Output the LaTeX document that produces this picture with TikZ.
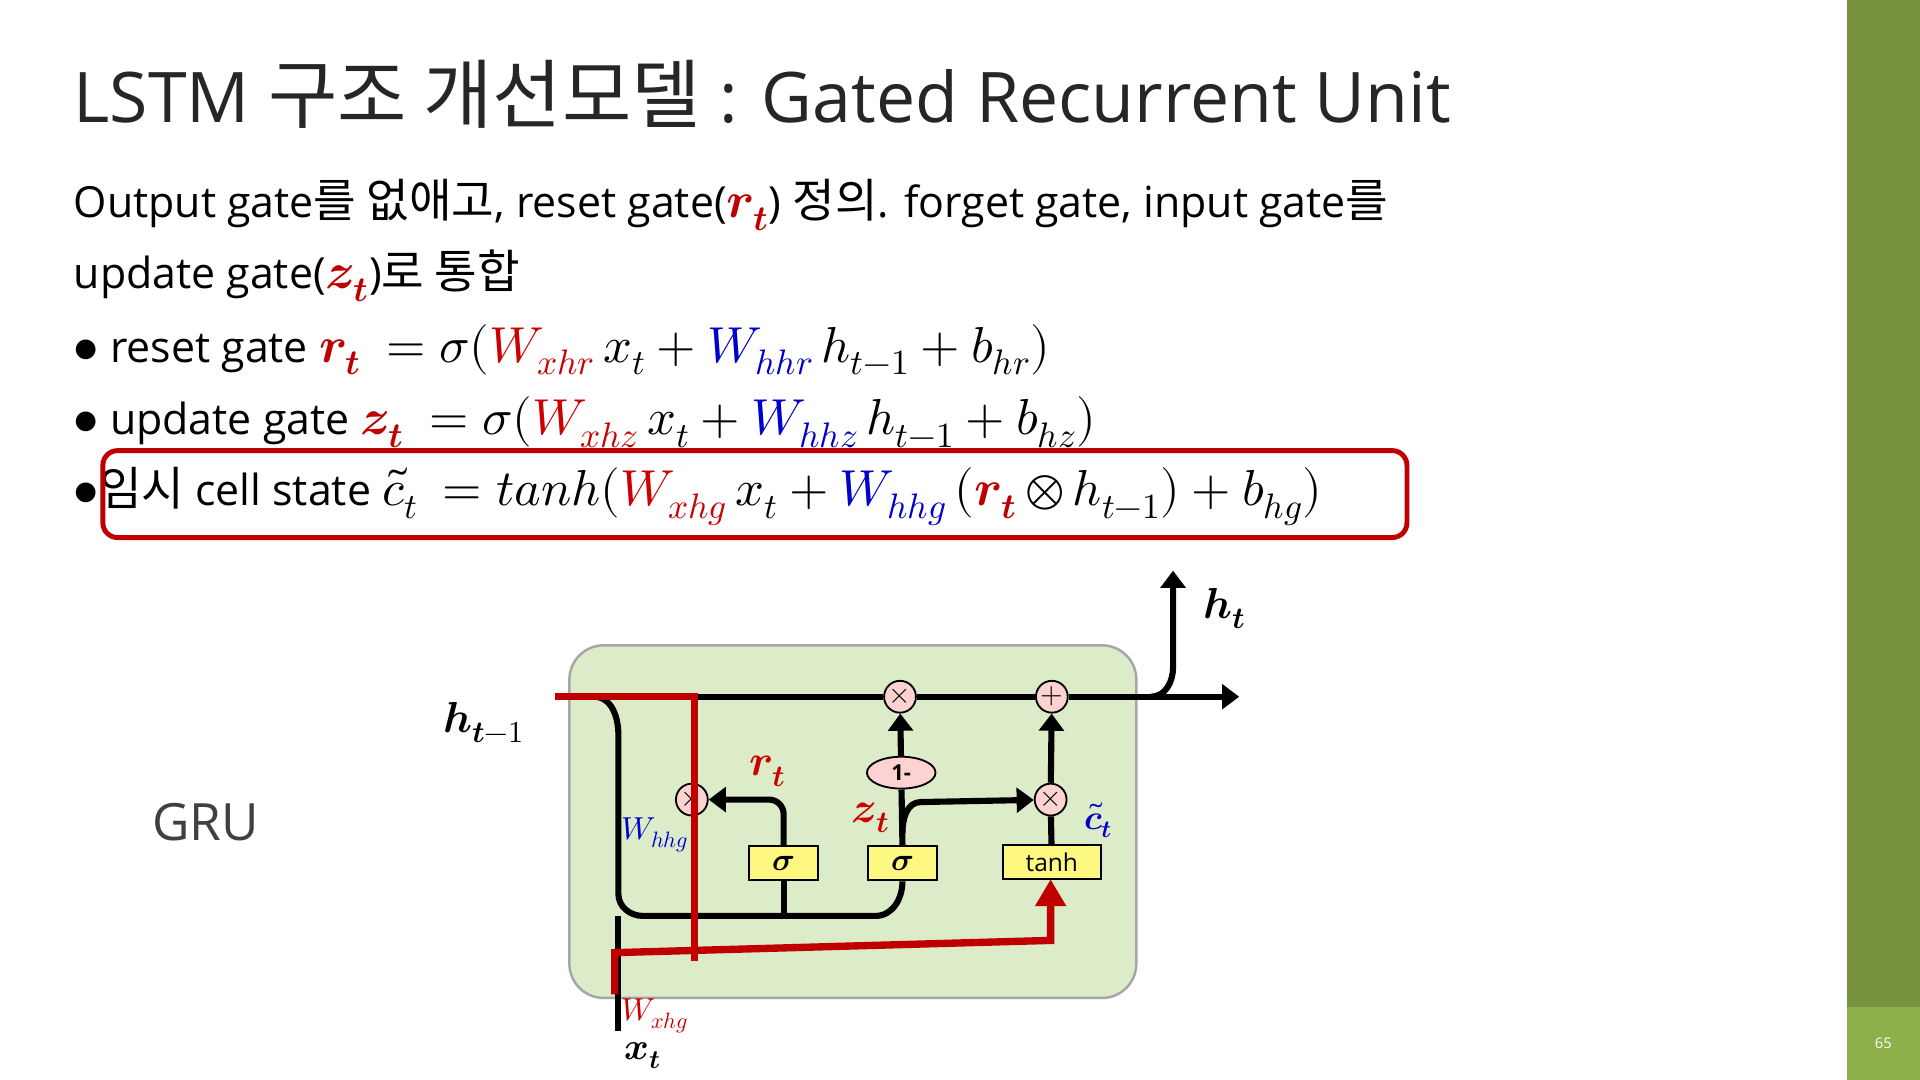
\documentclass[tikz,border=0pt]{standalone}
\usepackage{amsmath}
\usepackage{fontspec}
\usepackage{unicode-math}
\setmathfont{Latin Modern Math}[Scale=1.18]
\setmainfont{Open Sans}
\newfontfamily\kr{Noto Sans CJK KR}[Scale=1.08]
\newcommand{\bv}[2]{\symbfit{#1}_{\symbfit{#2}}}
\usetikzlibrary{arrows.meta,shapes.geometric}
\definecolor{dred}{HTML}{C00000}
\definecolor{bar}{HTML}{76923C}
\definecolor{bar2}{HTML}{8DB04A}
\definecolor{mblue}{HTML}{0000CC}
\definecolor{mred}{HTML}{CC0000}
\definecolor{boxg}{HTML}{DCEBC8}
\begin{document}
\begin{tikzpicture}[x=1pt,y=-1pt,
 body/.style={anchor=base west,inner sep=0,font=\fontsize{35}{40}\selectfont},
 blk/.style={line width=5pt,black},
 arr/.style={blk,-{Triangle[length=14pt,width=20pt]}},
 op/.style={circle,draw=black,line width=1.5pt,fill=pink!70,minimum size=26pt,inner sep=0,font=\fontsize{20}{20}\selectfont},
 gate/.style={draw=black,line width=1.5pt,fill=yellow!50,minimum height=28pt,minimum width=56pt,inner sep=3pt,font=\fontsize{22}{22}\selectfont\bfseries},
 ovl/.style={line width=6pt,dred}]
\useasboundingbox (0,0) rectangle (1568,882);
\fill[white] (0,0) rectangle (1568,882);
\fill[bar] (1508,0) rectangle (1568,822);
\fill[bar2] (1508,822) rectangle (1568,882);
\node[text=white,font=\fontsize{12}{12}\selectfont] (pg) at (1538,852) {65};
\node[anchor=base west,inner sep=0,font=\fontsize{57}{60}\selectfont,text=black!85] (title) at (60,100) {LSTM {\kr 구조 개선모델} : Gated Recurrent Unit};
\node[body] (l1) at (60,178) {Output gate{\kr 를 없애고}, reset gate($\color{dred}\bv{r}{t}$) {\kr 정의}. forget gate, input gate{\kr 를}};
\node[body] (l2) at (60,236) {update gate($\color{dred}\bv{z}{t}$){\kr 로 통합}};
\node[body] (l3) at (60,296) {$\bullet$ reset gate $\color{dred}\bv{r}{t}$ $\;=\sigma({\color{mred}W_{xhr}}\,x_t+{\color{mblue}W_{hhr}}\,h_{t-1}+b_{hr})$};
\node[body] (l4) at (60,355) {$\bullet$ update gate $\color{dred}\bv{z}{t}$ $\;=\sigma({\color{mred}W_{xhz}}\,x_t+{\color{mblue}W_{hhz}}\,h_{t-1}+b_{hz})$};
\node[body] (l5) at (60,413) {$\bullet${\kr 임시} cell state $\tilde c_t$ $\;=tanh({\color{mred}W_{xhg}}\,x_t+{\color{mblue}W_{hhg}}\,({\color{dred}\bv{r}{t}}\,{\otimes}\,h_{t-1})+b_{hg})$};
\draw[dred,line width=4pt,rounded corners=12pt] (84,368) rectangle (1149,439);
\node[anchor=base west,inner sep=0,font=\fontsize{42}{44}\selectfont,text=black!75] (gru) at (124,686) {GRU};
% diagram
\draw[fill=boxg,draw=black!35,line width=2pt,rounded corners=28pt] (465,527) rectangle (928,815);
\node[op] (m1) at (735,569) {$\symbf{\times}$};
\node[op] (p1) at (859,569) {$\symbf{+}$};
\node[op] (mr) at (565,653) {$\symbf{\times}$};
\node[op] (mz) at (858,653) {$\symbf{\times}$};
\node[ellipse,draw=black,line width=1.5pt,fill=pink!70,minimum width=56pt,minimum height=26pt,inner sep=0,font=\fontsize{18}{18}\selectfont\bfseries] (one) at (736,631) {1-};
\node[gate] (sr) at (640,705) {$\symbf{\sigma}$};
\node[gate] (sz) at (737,705) {$\symbf{\sigma}$};
\node[gate,minimum width=80pt,font=\fontsize{20}{20}\selectfont] (th) at (859,704) {tanh};
\coordinate (hin) at (465,569);
\coordinate (hout) at (1012,569);
\coordinate (htop) at (958,466);
\coordinate (xin) at (505,842);
\draw[blk] (hin) -- (m1) -- (p1);
\draw[arr] (p1) -- (hout);
\draw[arr] (940,569) to[out=0,in=-90] (958,545) -- (htop);
\draw[blk] (485,569) to[out=0,in=90] (505,600) -- (505,730) to[out=-90,in=180] (525,748) -- (715,748) to[out=0,in=-90] (sz.south);
\draw[blk] (640,748) -- (sr.south);
\draw[blk] (xin) -- (505,748);
\draw[arr] (sr.north) -- (640,665) to[out=90,in=0] (628,653) -- (mr);
\draw[blk] (sz.north) -- (one);
\draw[arr] (one) -- (m1);
\draw[arr] (737,680) to[out=90,in=180] (752,655) -- (mz);
\draw[blk] (th) -- (mz);
\draw[arr] (mz) -- (p1);
\node[font=\fontsize{30}{34}\selectfont] (hl) at (395,590) {$\bv{h}{t-1}$};
\node[font=\fontsize{30}{34}\selectfont] (ht) at (1000,497) {$\bv{h}{t}$};
\node[font=\fontsize{30}{34}\selectfont,text=mred] (rt) at (627,630) {$\bv{r}{t}$};
\node[font=\fontsize{30}{34}\selectfont,text=mred] (zt) at (711,668) {$\bv{z}{t}$};
\node[font=\fontsize{24}{28}\selectfont,text=mblue] (ct) at (897,670) {$\tilde{\symbfit{c}}_{\symbfit{t}}$};
\node[font=\fontsize{26}{30}\selectfont] (xt) at (525,862) {$\bv{x}{t}$};
% overlay
\draw[ovl] (453,569) -- (567,569) -- (567,785);
\draw[ovl,-{Triangle[length=22pt,width=24pt]}] (502,812) -- (502,778) -- (858,768) -- (858,718);
\node[anchor=west,inner sep=0,font=\fontsize{22}{24}\selectfont,text=mblue] (whh) at (507,682) {$W_{hhg}$};
\node[anchor=west,inner sep=0,font=\fontsize{22}{24}\selectfont,text=mred] (wxh) at (507,830) {$W_{xhg}$};
\end{tikzpicture}
\end{document}
